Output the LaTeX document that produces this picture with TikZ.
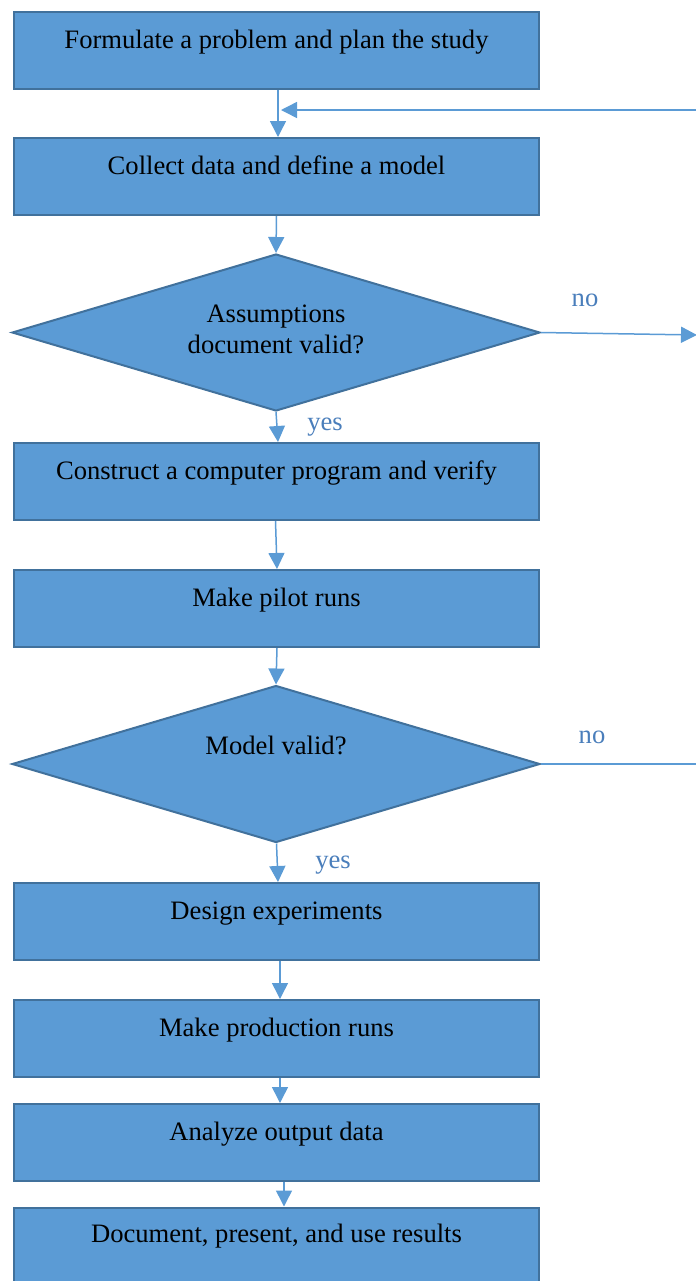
\documentclass[tikz,border=0pt]{standalone}
\usepackage{fontspec}
\setmainfont{Liberation Serif}
\usetikzlibrary{shapes.geometric,arrows.meta}
\definecolor{fillblue}{HTML}{5B9BD5}
\definecolor{edgeblue}{HTML}{41719C}
\definecolor{labelblue}{HTML}{4A7EBB}
\begin{document}
\begin{tikzpicture}[x=0.5pt,y=-0.5pt,
  box/.style={draw=edgeblue,fill=fillblue,line width=1pt,minimum width=262.5pt,minimum height=38.5pt,inner sep=0pt},
  dia/.style={diamond,draw=edgeblue,fill=fillblue,line width=1pt,minimum width=264pt,minimum height=78.5pt,inner sep=0pt},
  txt/.style={anchor=base,font=\fontsize{13.3}{15}\selectfont,inner sep=0pt},
  lbl/.style={anchor=base,font=\fontsize{13.3}{15}\selectfont,text=labelblue,inner sep=0pt},
  arr/.style={draw=fillblue,line width=0.75pt,-{Triangle[length=8pt,width=8pt]}},
  ln/.style={draw=fillblue,line width=0.75pt}]
\useasboundingbox (0,0) rectangle (696,1281);
\clip (0,0) rectangle (696,1281);
% boxes
\node[box] (r1) at (276.5,50.5) {};
\node[box] (r2) at (276.5,176.5) {};
\node[dia] (d1) at (276,332.5) {};
\node[box] (r3) at (276.5,481.5) {};
\node[box] (r4) at (276.5,608.5) {};
\node[dia] (d2) at (276,764) {};
\node[box] (r5) at (276.5,921.5) {};
\node[box] (r6) at (276.5,1038.5) {};
\node[box] (r7) at (276.5,1142.5) {};
\node[box] (r8) at (276.5,1246) {};
% texts
\node[txt] (t1) at (276.5,48) {Formulate a problem and plan the study};
\node[txt] (t2) at (276.5,174) {Collect data and define a model};
\node[txt] (t3a) at (276,322) {Assumptions};
\node[txt] (t3b) at (276,353) {document valid?};
\node[txt] (t4) at (276.5,479) {Construct a computer program and verify};
\node[txt] (t5) at (276.5,606) {Make pilot runs};
\node[txt] (t6) at (276,754) {Model valid?};
\node[txt] (t7) at (276.5,919) {Design experiments};
\node[txt] (t8) at (276.5,1036) {Make production runs};
\node[txt] (t9) at (276.5,1140) {Analyze output data};
\node[txt] (t10) at (276.5,1242) {Document, present, and use results};
% labels
\node[lbl] (no1) at (585,306) {no};
\node[lbl] (yes1) at (325,430) {yes};
\node[lbl] (no2) at (592,743) {no};
\node[lbl] (yes2) at (333,868) {yes};
% connectors
\coordinate (fbs) at (700,110);
\coordinate (fbe) at (281,110);
\coordinate (no1e) at (697,335);
\coordinate (no2e) at (700,764);
\draw[arr] ([xshift=0.75pt]r1.south) -- ([xshift=0.75pt]r2.north);
\draw[arr] (fbs) -- (fbe);
\draw[arr] (r2.south) -- (d1.north);
\draw[arr] (d1.east) -- (no1e);
\draw[arr] (d1.south) -- ([xshift=0.75pt]r3.north);
\draw[arr] ([xshift=-0.5pt]r3.south) -- ([xshift=0.25pt]r4.north);
\draw[arr] ([xshift=0.25pt]r4.south) -- (d2.north);
\draw[ln] (d2.east) -- (no2e);
\draw[arr] ([xshift=0.25pt]d2.south) -- ([xshift=0.75pt]r5.north);
\draw[arr] ([xshift=1.75pt]r5.south) -- ([xshift=1.75pt]r6.north);
\draw[arr] ([xshift=1.75pt]r6.south) -- ([xshift=1.75pt]r7.north);
\draw[arr] ([xshift=3.75pt]r7.south) -- ([xshift=3.75pt]r8.north);
\end{tikzpicture}
\end{document}
